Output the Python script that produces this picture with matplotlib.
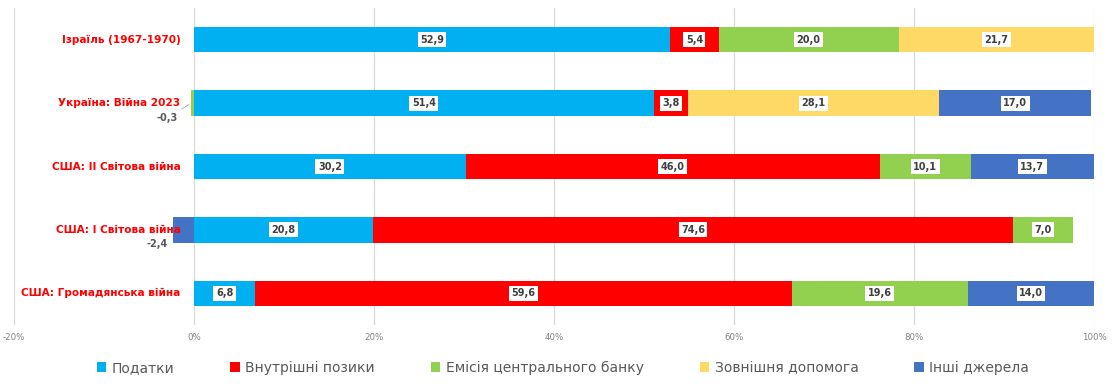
import matplotlib
matplotlib.use("Agg")
import matplotlib.pyplot as plt
import numpy as np

# war financing structure, % of total
wars = ["Ізраїль (1967-1970)", "Україна: Війна 2023", "США: ІІ Світова війна",
        "США: І Світова війна", "США: Громадянська війна"]
sources = ["Податки", "Внутрішні позики", "Емісія центрального банку",
           "Зовнішня допомога", "Інші джерела"]
taxes = [52.9, 51.4, 30.2, 20.8, 6.8]
loans = [5.4, 3.8, 46.0, 74.6, 59.6]
emission = [20.0, -0.3, 10.1, 7.0, 19.6]
external = [21.7, 28.1, 0.0, 0.0, 0.0]
other = [0.0, 17.0, 13.7, -2.4, 14.0]
colors = ["#00B0F0", "#FF0000", "#92D050", "#FFD966", "#4472C4"]

values = np.array([taxes, loans, emission, external, other])
# 100% stacked: each row is scaled by the sum of absolute values
shares = values / np.abs(values).sum(axis=0) * 100

fig = plt.figure(figsize=(11.14, 3.88), dpi=100)
ax = fig.add_axes([14 / 1114, 63 / 388, 1080 / 1114, 317 / 388])

y = np.arange(len(wars))
pos_left = np.zeros(len(wars))
neg_left = np.zeros(len(wars))
for name, vals, sh, col in zip(sources, values, shares, colors):
    left = np.where(sh >= 0, pos_left, neg_left + sh)
    ax.barh(y, sh, left=np.where(sh >= 0, pos_left, neg_left), height=0.4,
            color=col, label=name, zorder=2)
    for i, (v, s) in enumerate(zip(vals, sh)):
        if v == 0:
            continue
        txt = f"{v:.1f}".replace(".", ",")
        if v > 0:
            ax.text(left[i] + s / 2, i, txt, ha="center", va="center",
                    fontsize=7, fontweight="bold", color="#404040", zorder=4,
                    bbox=dict(boxstyle="square,pad=0.25", fc="white", ec="none"))
        else:
            off = (-10, -11) if v > -1 else (-4, -10)
            ax.annotate(txt, (left[i], i), xytext=off, textcoords="offset points",
                        ha="right", va="center", fontsize=7, fontweight="bold",
                        color="#595959", zorder=4,
                        arrowprops=dict(arrowstyle="-", color="#A6A6A6", lw=0.6)
                        if v > -1 else None)
    pos_left = pos_left + np.clip(sh, 0, None)
    neg_left = neg_left + np.clip(sh, None, 0)

for i, w in enumerate(wars):
    ax.text(-1.5, i, w, ha="right", va="center", fontsize=7.6, fontweight="bold",
            color="#FF0000", zorder=5)

ax.set_xlim(-20, 100)
ax.set_ylim(len(wars) - 0.5, -0.5)
ax.set_xticks(np.arange(-20, 101, 20))
ax.set_xticklabels([f"{t}%" for t in range(-20, 101, 20)])
ax.tick_params(axis="x", length=0, pad=6, labelsize=6.2, labelcolor="#808080")
ax.set_yticks([])
ax.grid(axis="x", color="#D9D9D9", lw=0.9, zorder=0)
for sp in ax.spines.values():
    sp.set_visible(False)

fig.legend(loc="center", bbox_to_anchor=(563 / 1114, 1 - 368 / 388), ncol=5,
           frameon=False, fontsize=10, labelcolor="#595959", handlelength=0.7,
           handleheight=0.7, handletextpad=0.4, columnspacing=4.0)

fig.savefig("out.png", dpi=100)
